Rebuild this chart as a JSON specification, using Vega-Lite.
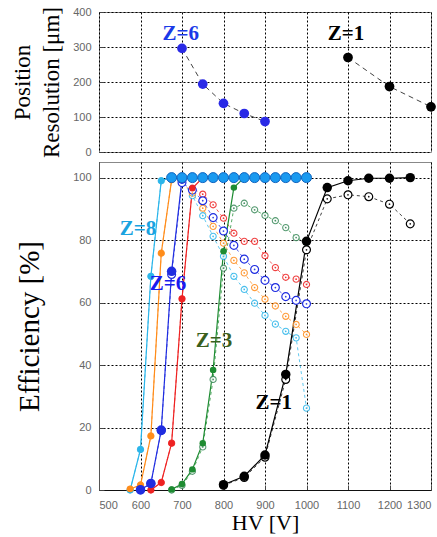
{
  "$schema": "https://vega.github.io/schema/vega-lite/v6.json",
  "padding": {"left": 11, "top": 5, "right": 0, "bottom": 0},
  "background": "white",
  "spacing": 3,
  "config": {
    "view": {"stroke": "#888", "strokeWidth": 1},
    "legend": {"disable": true},
    "axis": {
      "labelFont": "Liberation Sans", "labelFontSize": 11, "labelColor": "#666", "labelOverlap": false,
      "titleFont": "Liberation Serif", "titleFontWeight": "normal", "titleFontSize": 22, "titleColor": "#000",
      "grid": true, "gridColor": "#000", "gridDash": [2, 2], "gridOpacity": 1, "gridWidth": 1,
      "domainColor": "#333", "tickColor": "#444", "ticks": true, "tickSize": -5, "labelPadding": 13
    }
  },
  "datasets": {
    "res": [
      {"s": "Z6", "hv": 700, "v": 296}, {"s": "Z6", "hv": 750, "v": 194}, {"s": "Z6", "hv": 800, "v": 139},
      {"s": "Z6", "hv": 850, "v": 110}, {"s": "Z6", "hv": 900, "v": 87},
      {"s": "Z1", "hv": 1100, "v": 270}, {"s": "Z1", "hv": 1200, "v": 187}, {"s": "Z1", "hv": 1300, "v": 129}
    ],
    "reslab": [
      {"t": "Z=6", "hv": 697, "v": 337},
      {"t": "Z=1", "hv": 1095, "v": 337}
    ],
    "eff": [
      {"s": "Z8", "k": "f", "hv": 575, "v": 0}, {"s": "Z8", "k": "f", "hv": 600, "v": 13}, {"s": "Z8", "k": "f", "hv": 625, "v": 68.4}, {"s": "Z8", "k": "f", "hv": 650, "v": 99}, {"s": "Z8", "k": "f", "hv": 675, "v": 100},
      {"s": "Z8", "k": "o", "hv": 575, "v": 0}, {"s": "Z8", "k": "o", "hv": 600, "v": 13}, {"s": "Z8", "k": "o", "hv": 625, "v": 68.4}, {"s": "Z8", "k": "o", "hv": 650, "v": 99}, {"s": "Z8", "k": "o", "hv": 675, "v": 100},
      {"s": "Z8", "k": "o", "hv": 700, "v": 99}, {"s": "Z8", "k": "o", "hv": 725, "v": 94.2}, {"s": "Z8", "k": "o", "hv": 750, "v": 87.8}, {"s": "Z8", "k": "o", "hv": 775, "v": 81.2}, {"s": "Z8", "k": "o", "hv": 800, "v": 74.8},
      {"s": "Z8", "k": "o", "hv": 825, "v": 68.4}, {"s": "Z8", "k": "o", "hv": 850, "v": 64.2}, {"s": "Z8", "k": "o", "hv": 875, "v": 59.8}, {"s": "Z8", "k": "o", "hv": 900, "v": 55.9}, {"s": "Z8", "k": "o", "hv": 925, "v": 53.1},
      {"s": "Z8", "k": "o", "hv": 950, "v": 50.8}, {"s": "Z8", "k": "o", "hv": 975, "v": 48.7}, {"s": "Z8", "k": "o", "hv": 1000, "v": 26.2},

      {"s": "Z7", "k": "f", "hv": 575, "v": 0.3}, {"s": "Z7", "k": "f", "hv": 600, "v": 1.6}, {"s": "Z7", "k": "f", "hv": 625, "v": 17.3}, {"s": "Z7", "k": "f", "hv": 650, "v": 75.8}, {"s": "Z7", "k": "f", "hv": 675, "v": 99.3},
      {"s": "Z7", "k": "o", "hv": 575, "v": 0.3}, {"s": "Z7", "k": "o", "hv": 600, "v": 1.6}, {"s": "Z7", "k": "o", "hv": 625, "v": 17.3}, {"s": "Z7", "k": "o", "hv": 650, "v": 75.8}, {"s": "Z7", "k": "o", "hv": 675, "v": 99.3},
      {"s": "Z7", "k": "o", "hv": 700, "v": 98.7}, {"s": "Z7", "k": "o", "hv": 725, "v": 95}, {"s": "Z7", "k": "o", "hv": 750, "v": 90.2}, {"s": "Z7", "k": "o", "hv": 775, "v": 84.4}, {"s": "Z7", "k": "o", "hv": 800, "v": 79.0},
      {"s": "Z7", "k": "o", "hv": 825, "v": 73.5}, {"s": "Z7", "k": "o", "hv": 850, "v": 69.5}, {"s": "Z7", "k": "o", "hv": 875, "v": 64.8}, {"s": "Z7", "k": "o", "hv": 900, "v": 61.1}, {"s": "Z7", "k": "o", "hv": 925, "v": 58.9},
      {"s": "Z7", "k": "o", "hv": 950, "v": 55.6}, {"s": "Z7", "k": "o", "hv": 975, "v": 53.0}, {"s": "Z7", "k": "o", "hv": 1000, "v": 49.8},

      {"s": "Z6", "k": "f", "hv": 600, "v": 0.1}, {"s": "Z6", "k": "f", "hv": 625, "v": 2.1}, {"s": "Z6", "k": "f", "hv": 650, "v": 19.2}, {"s": "Z6", "k": "f", "hv": 675, "v": 70.0}, {"s": "Z6", "k": "f", "hv": 700, "v": 99.5},
      {"s": "Z6", "k": "o", "hv": 600, "v": 0}, {"s": "Z6", "k": "o", "hv": 625, "v": 2}, {"s": "Z6", "k": "o", "hv": 650, "v": 19}, {"s": "Z6", "k": "o", "hv": 675, "v": 69}, {"s": "Z6", "k": "o", "hv": 700, "v": 98.4},
      {"s": "Z6", "k": "o", "hv": 725, "v": 96}, {"s": "Z6", "k": "o", "hv": 750, "v": 92.6}, {"s": "Z6", "k": "o", "hv": 775, "v": 87.2}, {"s": "Z6", "k": "o", "hv": 800, "v": 82.9}, {"s": "Z6", "k": "o", "hv": 825, "v": 78.3},
      {"s": "Z6", "k": "o", "hv": 850, "v": 73.9}, {"s": "Z6", "k": "o", "hv": 875, "v": 70.6}, {"s": "Z6", "k": "o", "hv": 900, "v": 67.1}, {"s": "Z6", "k": "o", "hv": 925, "v": 64.8}, {"s": "Z6", "k": "o", "hv": 950, "v": 61.9},
      {"s": "Z6", "k": "o", "hv": 975, "v": 60.7}, {"s": "Z6", "k": "o", "hv": 1000, "v": 59.6},

      {"s": "Z5", "k": "f", "hv": 625, "v": 0}, {"s": "Z5", "k": "f", "hv": 650, "v": 2.4}, {"s": "Z5", "k": "f", "hv": 675, "v": 15}, {"s": "Z5", "k": "f", "hv": 700, "v": 61.2}, {"s": "Z5", "k": "f", "hv": 725, "v": 96.6}, {"s": "Z5", "k": "f", "hv": 750, "v": 100},
      {"s": "Z5", "k": "o", "hv": 625, "v": 0}, {"s": "Z5", "k": "o", "hv": 650, "v": 2.4}, {"s": "Z5", "k": "o", "hv": 675, "v": 15}, {"s": "Z5", "k": "o", "hv": 700, "v": 61.2}, {"s": "Z5", "k": "o", "hv": 725, "v": 96.6},
      {"s": "Z5", "k": "o", "hv": 750, "v": 94.7}, {"s": "Z5", "k": "o", "hv": 775, "v": 91.3}, {"s": "Z5", "k": "o", "hv": 800, "v": 87.0}, {"s": "Z5", "k": "o", "hv": 825, "v": 82.2}, {"s": "Z5", "k": "o", "hv": 850, "v": 79.6},
      {"s": "Z5", "k": "o", "hv": 875, "v": 79.6}, {"s": "Z5", "k": "o", "hv": 900, "v": 75.0}, {"s": "Z5", "k": "o", "hv": 925, "v": 71.2}, {"s": "Z5", "k": "o", "hv": 950, "v": 68.1}, {"s": "Z5", "k": "o", "hv": 975, "v": 67.5},
      {"s": "Z5", "k": "o", "hv": 1000, "v": 65.8},

      {"s": "Z3", "k": "f", "hv": 675, "v": 0.2}, {"s": "Z3", "k": "f", "hv": 700, "v": 1.9}, {"s": "Z3", "k": "f", "hv": 725, "v": 6.6}, {"s": "Z3", "k": "f", "hv": 750, "v": 15.0}, {"s": "Z3", "k": "f", "hv": 775, "v": 38.4},
      {"s": "Z3", "k": "f", "hv": 800, "v": 76.4}, {"s": "Z3", "k": "f", "hv": 825, "v": 96.8}, {"s": "Z3", "k": "f", "hv": 850, "v": 100},
      {"s": "Z3", "k": "o", "hv": 675, "v": 0}, {"s": "Z3", "k": "o", "hv": 700, "v": 1.5}, {"s": "Z3", "k": "o", "hv": 725, "v": 6}, {"s": "Z3", "k": "o", "hv": 750, "v": 13.8}, {"s": "Z3", "k": "o", "hv": 775, "v": 35.4},
      {"s": "Z3", "k": "o", "hv": 800, "v": 71}, {"s": "Z3", "k": "o", "hv": 825, "v": 90.2}, {"s": "Z3", "k": "o", "hv": 850, "v": 91.8}, {"s": "Z3", "k": "o", "hv": 875, "v": 89.7}, {"s": "Z3", "k": "o", "hv": 900, "v": 87.9},
      {"s": "Z3", "k": "o", "hv": 925, "v": 86.2}, {"s": "Z3", "k": "o", "hv": 950, "v": 84.0}, {"s": "Z3", "k": "o", "hv": 975, "v": 80.8}, {"s": "Z3", "k": "o", "hv": 1000, "v": 79.3},

      {"s": "Z1", "k": "f", "hv": 800, "v": 1.7}, {"s": "Z1", "k": "f", "hv": 850, "v": 4.4}, {"s": "Z1", "k": "f", "hv": 900, "v": 11.2}, {"s": "Z1", "k": "f", "hv": 950, "v": 37.0}, {"s": "Z1", "k": "f", "hv": 1000, "v": 79.6},
      {"s": "Z1", "k": "f", "hv": 1050, "v": 96.8}, {"s": "Z1", "k": "f", "hv": 1100, "v": 99.0}, {"s": "Z1", "k": "f", "hv": 1150, "v": 99.8}, {"s": "Z1", "k": "f", "hv": 1200, "v": 99.8}, {"s": "Z1", "k": "f", "hv": 1250, "v": 100},
      {"s": "Z1", "k": "o", "hv": 800, "v": 1.5}, {"s": "Z1", "k": "o", "hv": 850, "v": 4.0}, {"s": "Z1", "k": "o", "hv": 900, "v": 10.5}, {"s": "Z1", "k": "o", "hv": 950, "v": 35.4}, {"s": "Z1", "k": "o", "hv": 1000, "v": 76.9},
      {"s": "Z1", "k": "o", "hv": 1050, "v": 93.2}, {"s": "Z1", "k": "o", "hv": 1100, "v": 94.5}, {"s": "Z1", "k": "o", "hv": 1150, "v": 93.9}, {"s": "Z1", "k": "o", "hv": 1200, "v": 91.5}, {"s": "Z1", "k": "o", "hv": 1250, "v": 85.2}
    ],
    "top": [
      {"hv": 675, "v": 100}, {"hv": 700, "v": 100}, {"hv": 725, "v": 100}, {"hv": 750, "v": 100}, {"hv": 775, "v": 100},
      {"hv": 800, "v": 100}, {"hv": 825, "v": 100}, {"hv": 850, "v": 100}, {"hv": 875, "v": 100}, {"hv": 900, "v": 100},
      {"hv": 925, "v": 100}, {"hv": 950, "v": 100}, {"hv": 975, "v": 100}, {"hv": 1000, "v": 100}
    ],
    "efflab": [
      {"t": "Z=8", "hv": 594, "v": 83.4},
      {"t": "Z=6", "hv": 666, "v": 65.9},
      {"t": "Z=3", "hv": 777, "v": 47.7},
      {"t": "Z=1", "hv": 921, "v": 27.9}
    ]
  },
  "vconcat": [
    {
      "width": 332, "height": 140,
      "encoding": {
        "x": {"field": "hv", "type": "quantitative", "scale": {"domain": [500, 1300], "nice": false},
              "axis": {"title": null, "labels": false, "domain": false, "ticks": false, "labelPadding": 0, "minExtent": 0, "grid": true, "values": [500, 600, 700, 800, 900, 1000, 1100, 1200, 1300]}},
        "y": {"field": "v", "type": "quantitative", "scale": {"domain": [0, 400], "nice": false},
              "axis": {"title": ["Position", "Resolution [μm]"], "titleFontSize": 23, "titleLineHeight": 29, "titlePadding": 9, "labelOverlap": false, "tickCount": 5, "grid": true, "values": [0, 100, 200, 300, 400], "domain": false}}
      },
      "layer": [
        {
          "data": {"name": "res"},
          "mark": {"type": "line", "color": "#444", "strokeWidth": 1, "strokeDash": [5, 4]},
          "encoding": {
            "detail": {"field": "s", "type": "nominal"}
          }
        },
        {
          "data": {"name": "res"},
          "mark": {"type": "point", "filled": true, "opacity": 1, "size": 95, "shape": "circle"},
          "encoding": {
            "color": {"field": "s", "type": "nominal", "scale": {"domain": ["Z6", "Z1"], "range": ["#2a2ae6", "#000000"]}}
          }
        },
        {
          "data": {"name": "reslab"},
          "mark": {"type": "text", "font": "Liberation Serif", "fontWeight": "bold", "fontSize": 21, "baseline": "middle"},
          "encoding": {
            "text": {"field": "t"},
            "color": {"field": "t", "type": "nominal", "scale": {"domain": ["Z=6", "Z=1"], "range": ["#1a3ae8", "#000000"]}}
          }
        }
      ],
      "resolve": {"scale": {"color": "independent"}}
    },
    {
      "width": 332, "height": 328,
      "encoding": {
        "x": {"field": "hv", "type": "quantitative", "scale": {"domain": [500, 1300], "nice": false},
              "axis": {"title": "HV [V]", "format": "d", "grid": true, "titlePadding": 2, "labelPadding": 14, "values": [500, 600, 700, 800, 900, 1000, 1100, 1200, 1300], "domainColor": "#111"}},
        "y": {"field": "v", "type": "quantitative", "scale": {"domain": [0, 105], "nice": false},
              "axis": {"title": "Efficiency [%]", "titleFontSize": 29, "titlePadding": 28, "labelOverlap": false, "grid": true, "values": [0, 20, 40, 60, 80, 100], "domainColor": "#555"}}
      },
      "layer": [
        {
          "data": {"name": "eff"},
          "transform": [{"filter": "datum.k == 'o'"}],
          "mark": {"type": "line", "strokeWidth": 1, "strokeDash": [3, 3], "opacity": 0.75},
          "encoding": {
            "color": {"field": "s", "type": "nominal", "scale": {"domain": ["Z8", "Z7", "Z6", "Z5", "Z3", "Z1"], "range": ["#2bb5ea", "#ff8c1a", "#1f2de0", "#ee2222", "#1e8c32", "#000000"]}}
          }
        },
        {
          "data": {"name": "eff"},
          "transform": [{"filter": "datum.k == 'f'"}],
          "mark": {"type": "line", "strokeWidth": 1.2},
          "encoding": {
            "color": {"field": "s", "type": "nominal", "scale": {"domain": ["Z8", "Z7", "Z6", "Z5", "Z3", "Z1"], "range": ["#2bb5ea", "#ff8c1a", "#1f2de0", "#ee2222", "#1e8c32", "#000000"]}}
          }
        },
        {
          "data": {"name": "top"},
          "mark": {"type": "line", "strokeWidth": 1.2, "color": "#1a9af0"},
          "encoding": {}
        },
        {
          "data": {"name": "eff"},
          "transform": [{"filter": "datum.k == 'o' && datum.s != 'Z6' && datum.s != 'Z1'"}],
          "mark": {"type": "point", "shape": "circle", "filled": false, "fill": "white", "fillOpacity": 1, "strokeWidth": 1.1, "size": 38, "opacity": 0.85},
          "encoding": {
            "stroke": {"field": "s", "type": "nominal", "scale": {"domain": ["Z8", "Z7", "Z6", "Z5", "Z3", "Z1"], "range": ["#2bb5ea", "#ff8c1a", "#1f2de0", "#ee2222", "#3a8a5a", "#000000"]}}
          }
        },
        {
          "data": {"name": "eff"},
          "transform": [{"filter": "datum.k == 'o' && (datum.s == 'Z6' || datum.s == 'Z1')"}],
          "mark": {"type": "point", "shape": "circle", "filled": false, "fill": "white", "fillOpacity": 1, "strokeWidth": 1.2, "size": 62},
          "encoding": {
            "stroke": {"field": "s", "type": "nominal", "scale": {"domain": ["Z8", "Z7", "Z6", "Z5", "Z3", "Z1"], "range": ["#2bb5ea", "#ff8c1a", "#1f2de0", "#ee2222", "#3a8a5a", "#000000"]}}
          }
        },
        {
          "data": {"name": "eff"},
          "transform": [{"filter": "datum.k == 'o'"}],
          "mark": {"type": "point", "shape": "circle", "filled": true, "size": 3, "opacity": 0.9},
          "encoding": {
            "color": {"field": "s", "type": "nominal", "scale": {"domain": ["Z8", "Z7", "Z6", "Z5", "Z3", "Z1"], "range": ["#2bb5ea", "#ff8c1a", "#1f2de0", "#ee2222", "#3a8a5a", "#000000"]}}
          }
        },
        {
          "data": {"name": "eff"},
          "transform": [{"filter": "datum.k == 'f' && datum.s != 'Z6' && datum.s != 'Z1'"}],
          "mark": {"type": "point", "shape": "circle", "filled": true, "opacity": 1, "size": 42},
          "encoding": {
            "color": {"field": "s", "type": "nominal", "scale": {"domain": ["Z8", "Z7", "Z6", "Z5", "Z3", "Z1"], "range": ["#2bb5ea", "#ff8c1a", "#1f2de0", "#ee2222", "#1e8c32", "#000000"]}}
          }
        },
        {
          "data": {"name": "eff"},
          "transform": [{"filter": "datum.k == 'f' && (datum.s == 'Z6' || datum.s == 'Z1')"}],
          "mark": {"type": "point", "shape": "circle", "filled": true, "opacity": 1, "size": 90},
          "encoding": {
            "color": {"field": "s", "type": "nominal", "scale": {"domain": ["Z8", "Z7", "Z6", "Z5", "Z3", "Z1"], "range": ["#2bb5ea", "#ff8c1a", "#1f2de0", "#ee2222", "#1e8c32", "#000000"]}}
          }
        },
        {
          "data": {"name": "top"},
          "mark": {"type": "point", "shape": "circle", "filled": true, "opacity": 1, "size": 100, "color": "#1a9af0", "stroke": "#1466c0", "strokeWidth": 1},
          "encoding": {}
        },
        {
          "data": {"name": "efflab"},
          "mark": {"type": "text", "font": "Liberation Serif", "fontWeight": "bold", "fontSize": 21, "baseline": "middle"},
          "encoding": {
            "text": {"field": "t"},
            "color": {"field": "t", "type": "nominal", "scale": {"domain": ["Z=8", "Z=6", "Z=3", "Z=1"], "range": ["#1aa3e0", "#1a1aee", "#3a5f1e", "#000000"]}}
          }
        }
      ],
      "resolve": {"scale": {"color": "independent", "stroke": "independent"}}
    }
  ]
}
